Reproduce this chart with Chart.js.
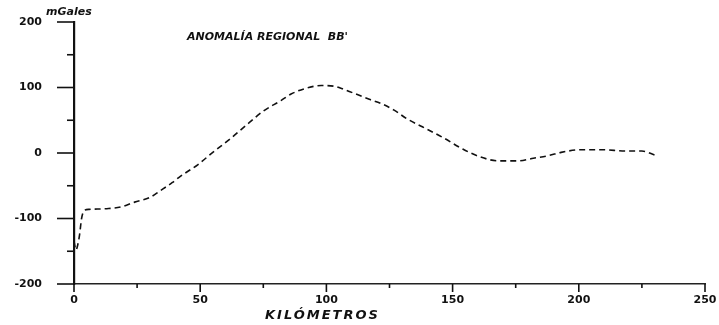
<!DOCTYPE html>
<html>
<head>
<meta charset="utf-8">
<script src="https://cdn.jsdelivr.net/npm/chart.js"></script>
<style>
  html, body { margin: 0; padding: 0; background: #fff; }
  #wrap { width: 719px; height: 325px; }
</style>
</head>
<body>
<div id="wrap"><canvas id="anomalia"></canvas></div>
<script>
// Distancia a lo largo del perfil (km) y anomalía regional (mGal)
const kmValues = [0, 0.8, 1.5, 2.2, 3, 4, 6, 13, 19, 24, 30, 34, 39, 42, 49, 55, 62, 69, 75, 82, 86, 93, 98, 103, 107, 113, 117, 122, 127, 132, 138, 146, 154, 161, 168, 176, 182, 188, 193, 201, 209, 219, 225, 230];
const anomaly = [-135, -148, -140, -125, -100, -88, -86, -85, -82, -75, -68, -58, -45, -36, -18, 1, 22, 45, 64, 80, 90, 100, 103, 102, 97, 88, 82, 75, 65, 52, 40, 24, 6, -6, -12, -12, -8, -4, 1, 5, 5, 3, 3, -3];

const xTickLabels = ['0', '50', '100', '150', '200', '250'];
const yTickLabels = ['-200', '-100', '0', '100', '200'];

const chartTitle = "ANOMALÍA REGIONAL  BB'";
const yUnit = 'mGales';
const xTitle = 'KILÓMETROS';

const points = kmValues.map((k, i) => ({ x: k, y: anomaly[i] }));

// Marcas de los ejes: mayores cada 50/100, menores entre medias
const tickMarks = {
    id: 'tickMarks',
    afterDraw(chart) {
        const { ctx, chartArea } = chart;
        const xs = chart.scales.x, ys = chart.scales.y;
        ctx.save();
        ctx.strokeStyle = '#111';
        ctx.lineWidth = 1.6;
        ys.ticks.forEach(t => {
            const py = ys.getPixelForValue(t.value);
            const len = t.value % 100 === 0 ? 17 : 7;
            ctx.beginPath();
            ctx.moveTo(chartArea.left - len, py);
            ctx.lineTo(chartArea.left, py);
            ctx.stroke();
        });
        xs.ticks.forEach(t => {
            const px = xs.getPixelForValue(t.value);
            const len = t.value % 50 === 0 ? 8 : 4;
            ctx.beginPath();
            ctx.moveTo(px, chartArea.bottom);
            ctx.lineTo(px, chartArea.bottom + len);
            ctx.stroke();
        });

        // rótulos
        ctx.fillStyle = '#111';
        ctx.textBaseline = 'middle';
        ctx.textAlign = 'left';
        ctx.font = 'italic bold 11px "DejaVu Sans"';
        ctx.fillText(yUnit, 46, 12);
        ctx.fillText(chartTitle, 187, 37);
        ctx.font = 'italic bold 13px "DejaVu Sans"';
        ctx.letterSpacing = '2px';
        ctx.fillText(xTitle, 265, 316);
        ctx.restore();
    }
};

new Chart(document.getElementById('anomalia'), {
    type: 'line',
    data: {
        datasets: [{
            data: points,
            borderColor: '#111',
            borderWidth: 1.6,
            borderDash: [6, 4],
            pointRadius: 0,
            fill: false,
            cubicInterpolationMode: 'monotone'
        }]
    },
    options: {
        responsive: true,
        maintainAspectRatio: false,
        animation: false,
        layout: { padding: { left: 0, right: 14, top: 22, bottom: 0 } },
        plugins: {
            legend: { display: false },
            tooltip: { enabled: false }
        },
        scales: {
            x: {
                type: 'linear',
                min: 0,
                max: 250,
                ticks: {
                    stepSize: 25,
                    color: '#111',
                    padding: 10,
                    maxRotation: 0,
                    font: { family: 'DejaVu Sans', size: 11, weight: 'bold' },
                    callback: v => xTickLabels.includes(String(v)) ? String(v) : ''
                },
                grid: { display: true, drawOnChartArea: false, drawTicks: false, color: 'rgba(0,0,0,0)' },
                border: { display: true, color: '#222', width: 1.4, dash: [5, 2] },
                afterFit: s => {
                    s.height = 41;
                    s.paddingLeft = 0;
                    s.paddingRight = 0;
                }
            },
            y: {
                type: 'linear',
                min: -200,
                max: 200,
                ticks: {
                    stepSize: 50,
                    color: '#111',
                    padding: 32,
                    font: { family: 'DejaVu Sans', size: 11, weight: 'bold' },
                    callback: v => yTickLabels.includes(String(v)) ? String(v) : ''
                },
                grid: { display: true, drawOnChartArea: false, drawTicks: false, color: 'rgba(0,0,0,0)' },
                border: { display: true, color: '#111', width: 2.2 },
                afterFit: s => {
                    s.width = 74;
                    s.paddingTop = 0;
                    s.paddingBottom = 0;
                }
            }
        }
    },
    plugins: [tickMarks]
});
</script>
</body>
</html>
